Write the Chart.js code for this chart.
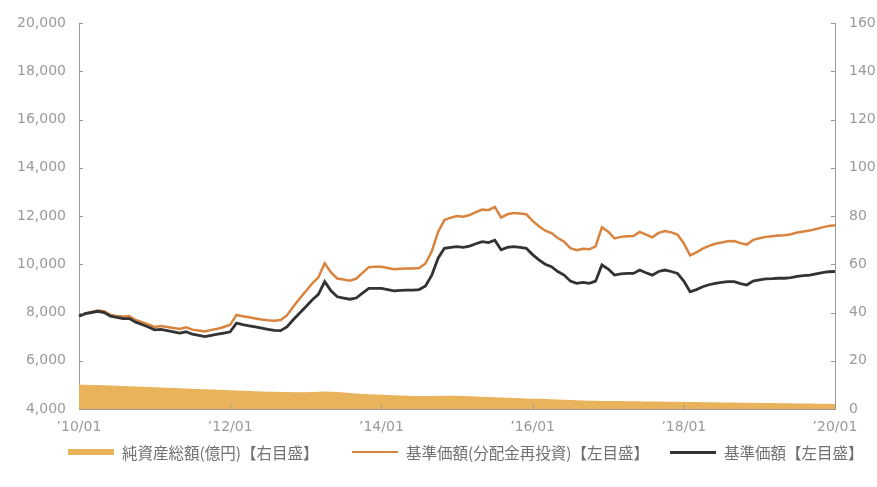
<!DOCTYPE html>
<html>
<head>
<meta charset="utf-8">
<script src="https://cdn.jsdelivr.net/npm/chart.js@4/dist/chart.umd.min.js"></script>
<style>
  body { margin: 0; background: #fff; }
  #wrap { position: relative; width: 877px; height: 487px; }
  #legend { position: absolute; left: 0; top: 440px; width: 877px; height: 24px;
            font-family: "Noto Sans CJK JP", sans-serif; font-size: 15.5px; color: #707070; }
  .item { position: absolute; top: 0; height: 24px; display: flex; align-items: center; white-space: nowrap; }
  .sw { display: inline-block; width: 46px; margin-right: 8px; }
</style>
</head>
<body>
<div id="wrap">
  <canvas id="myChart" width="877" height="487"></canvas>
  <div id="legend"></div>
</div>
<script>
// monthly, 2010/01 .. 2020/01
let years = ["10", "11", "12", "13", "14", "15", "16", "17", "18", "19", "20"]

let navReinvested = [
    7850, 7960, 8020, 8080, 8050, 7900, 7860, 7830, 7840, 7690, 7600, 7510,
    7400, 7440, 7400, 7360, 7320, 7390, 7290, 7250, 7210, 7280, 7330, 7400,
    7490, 7900, 7845, 7800, 7755, 7710, 7680, 7660, 7685, 7880, 8240, 8570,
    8880, 9200, 9460, 10040, 9660, 9410, 9365, 9320, 9400, 9645, 9880, 9900,
    9900, 9845, 9790, 9810, 9820, 9820, 9845, 10030, 10540, 11340, 11830, 11930,
    12000, 11970, 12040, 12160, 12270, 12240, 12375, 11935, 12070, 12125, 12100, 12070,
    11800, 11575, 11390, 11295, 11090, 10935, 10665, 10580, 10645, 10620, 10740, 11535,
    11350, 11070, 11135, 11160, 11170, 11340, 11225, 11115, 11300, 11380, 11320, 11235,
    10870, 10365, 10490, 10650, 10760, 10850, 10905, 10950, 10960, 10875, 10815, 11010,
    11080, 11135, 11160, 11190, 11200, 11245, 11315, 11360, 11395, 11460, 11530, 11590,
    11620
]

let nav = [
    7850, 7950, 8000, 8050, 8000, 7850, 7800, 7750, 7750, 7600, 7500, 7400,
    7280, 7300, 7250, 7200, 7150, 7200, 7100, 7050, 7000, 7050, 7100, 7150,
    7200, 7560, 7500, 7450, 7400, 7350, 7300, 7260, 7250, 7400, 7700, 7970,
    8240, 8520, 8750, 9280, 8900, 8650, 8600, 8550, 8600, 8800, 9000, 9000,
    9000, 8950, 8900, 8920, 8930, 8930, 8950, 9100, 9550, 10250, 10660, 10700,
    10730, 10700, 10750, 10850, 10940, 10900, 11000, 10600, 10700, 10730, 10700, 10660,
    10400, 10180, 10000, 9900, 9700, 9550, 9300, 9210, 9250, 9210, 9300, 9970,
    9800, 9550, 9600, 9620, 9620, 9760, 9650, 9550, 9700, 9760, 9700, 9620,
    9300, 8860, 8950, 9070, 9150, 9210, 9250, 9280, 9280, 9200, 9140, 9300,
    9350, 9390, 9400, 9420, 9420, 9450, 9500, 9530, 9550, 9600, 9650, 9690,
    9700
]

// 純資産総額 (億円)
let netAssets = [
    10.2, 10.1, 10.0, 9.9, 9.8, 9.7, 9.6, 9.5, 9.4, 9.3, 9.2, 9.1,
    9.0, 8.9, 8.8, 8.7, 8.6, 8.5, 8.4, 8.3, 8.2, 8.1, 8.0, 7.9,
    7.8, 7.7, 7.6, 7.5, 7.4, 7.3, 7.2, 7.1, 7.0, 7.0, 6.9, 6.9,
    6.9, 7.0, 7.2, 7.3, 7.2, 7.0, 6.8, 6.6, 6.4, 6.2, 6.1, 6.0,
    5.9, 5.8, 5.7, 5.6, 5.5, 5.4, 5.4, 5.4, 5.4, 5.5, 5.5, 5.5,
    5.5, 5.4, 5.3, 5.2, 5.1, 5.0, 4.9, 4.8, 4.7, 4.6, 4.5, 4.4,
    4.3, 4.2, 4.1, 4.0, 3.9, 3.8, 3.7, 3.6, 3.5, 3.4, 3.4, 3.3,
    3.3, 3.3, 3.3, 3.2, 3.2, 3.2, 3.1, 3.1, 3.1, 3.0, 3.0, 3.0,
    2.9, 2.9, 2.9, 2.8, 2.8, 2.8, 2.7, 2.7, 2.7, 2.6, 2.6, 2.6,
    2.5, 2.5, 2.5, 2.4, 2.4, 2.4, 2.3, 2.3, 2.3, 2.2, 2.2, 2.2,
    2.1
]

let seriesNames = ["純資産総額(億円)【右目盛】", "基準価額(分配金再投資)【左目盛】", "基準価額【左目盛】"]
let seriesColors = ["#E8B35A", "#D9843E", "#333333"]

let labels = []
years.forEach(function (y, i) {
    let last = i == years.length - 1 ? 1 : 12
    for (let m = 1; m <= last; m++) {
        labels.push(`’${y}/${String(m).padStart(2, '0')}`)
    }
})

// small ticks drawn inside the plot, like the original
const innerTicks = {
    id: 'innerTicks',
    afterDraw(chart) {
        let ctx = chart.ctx
        let a = chart.chartArea
        ctx.save()
        ctx.strokeStyle = '#999'
        ctx.lineWidth = 1
        ctx.beginPath()
        chart.scales.y.ticks.forEach(t => {
            let py = Math.round(chart.scales.y.getPixelForValue(t.value)) + 0.5
            ctx.moveTo(a.left, py); ctx.lineTo(a.left + 4, py)
        })
        chart.scales.y1.ticks.forEach(t => {
            let py = Math.round(chart.scales.y1.getPixelForValue(t.value)) + 0.5
            ctx.moveTo(a.right, py); ctx.lineTo(a.right - 4, py)
        })
        labels.forEach((l, i) => {
            if (i % 24 == 0 && i > 0 && i < labels.length - 1) {
                let px = Math.round(chart.scales.x.getPixelForValue(i)) + 0.5
                ctx.moveTo(px, a.bottom); ctx.lineTo(px, a.bottom - 4)
            }
        })
        ctx.stroke()
        ctx.restore()
    }
}

let tickFont = { family: 'DejaVu Sans', size: 14 }
let tickColor = '#9a9a9a'

new Chart("myChart", {
    type: "line",
    data: {
        labels: labels,
        datasets: [{
            label: seriesNames[0],
            data: netAssets,
            yAxisID: 'y1',
            fill: 'origin',
            backgroundColor: seriesColors[0],
            borderWidth: 0,
            pointRadius: 0,
            order: 3
        }, {
            label: seriesNames[1],
            data: navReinvested,
            yAxisID: 'y',
            borderColor: seriesColors[1],
            borderWidth: 2.5,
            pointRadius: 0,
            fill: false,
            order: 2
        }, {
            label: seriesNames[2],
            data: nav,
            yAxisID: 'y',
            borderColor: seriesColors[2],
            borderWidth: 2.8,
            pointRadius: 0,
            fill: false,
            order: 1
        }]
    },
    options: {
        responsive: false,
        animation: false,
        layout: { padding: { top: 23, bottom: 48, left: 0, right: 0 } },
        plugins: {
            legend: { display: false },
            tooltip: { enabled: false }
        },
        scales: {
            x: {
                offset: false,
                grid: { display: false },
                border: { display: true, color: '#999' },
                ticks: {
                    autoSkip: false,
                    maxRotation: 0,
                    padding: 2,
                    color: tickColor,
                    font: tickFont,
                    callback: function (v, i) { return i % 24 == 0 ? labels[i] : null }
                },
                afterFit: s => { s.height = 30 }
            },
            y: {
                position: 'left',
                min: 4000,
                max: 20000,
                grid: { display: false },
                border: { display: true, color: '#999' },
                ticks: {
                    stepSize: 2000,
                    padding: 5,
                    color: tickColor,
                    font: tickFont,
                    callback: v => v.toLocaleString('en-US')
                },
                afterFit: s => { s.width = 79 }
            },
            y1: {
                position: 'right',
                min: 0,
                max: 160,
                grid: { display: false },
                border: { display: true, color: '#999' },
                ticks: {
                    stepSize: 20,
                    padding: 6,
                    color: tickColor,
                    font: tickFont
                },
                afterFit: s => { s.width = 42 }
            }
        }
    },
    plugins: [innerTicks]
});

// legend
let legendPos = [68, 352, 670]
let swatchH = [6, 2, 3]
let html = ""
seriesNames.forEach(function (name, i) {
    html += `<div class="item" style="left:${legendPos[i]}px">`
    html += `<span class="sw" style="height:${swatchH[i]}px;background:${seriesColors[i]}"></span>`
    html += `<span>${name}</span></div>`
})
document.getElementById('legend').innerHTML = html
</script>
</body>
</html>
